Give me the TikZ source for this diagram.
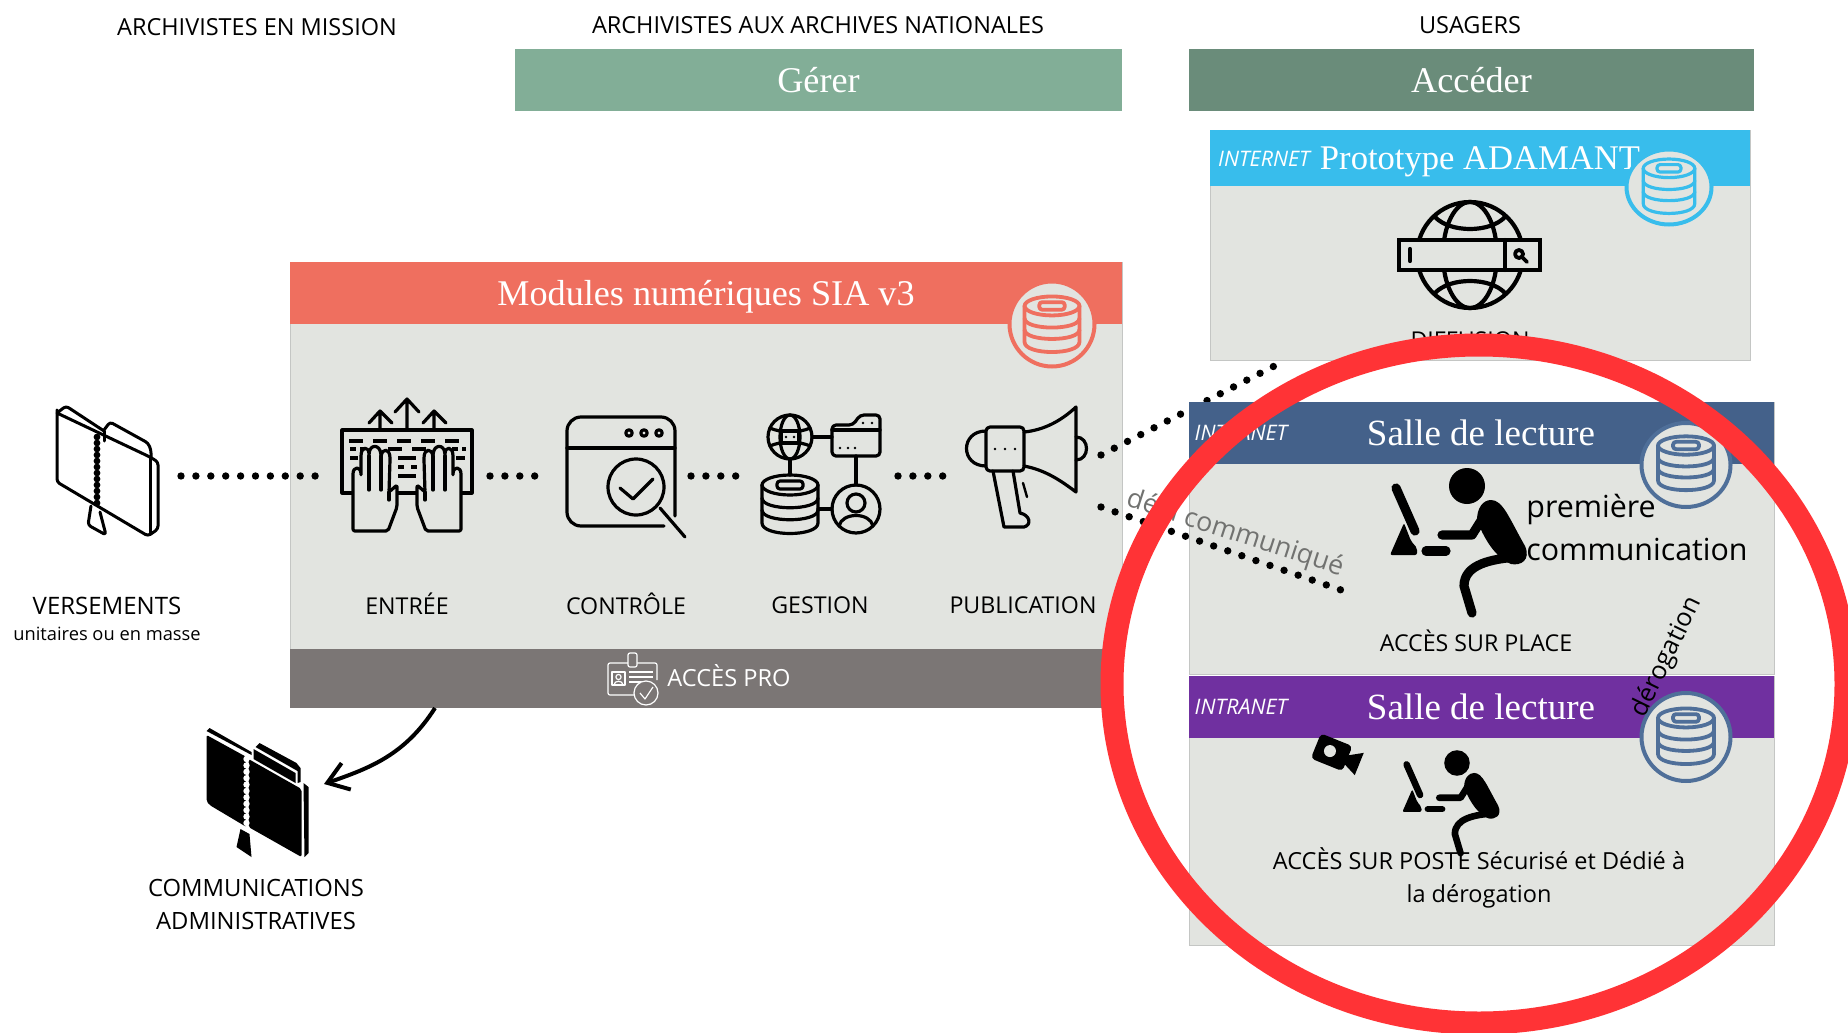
\documentclass[tikz,border=0pt]{standalone}
\usepackage{fontspec}
\setmainfont{Open Sans}
\newfontfamily\hdfont{Liberation Serif}
\usetikzlibrary{arrows.meta,shapes.geometric}
\definecolor{bodyg}{HTML}{E2E4E0}
\definecolor{edgeg}{HTML}{C4C6C4}
\definecolor{gererc}{HTML}{82AE97}
\definecolor{accederc}{HTML}{6A8C7A}
\definecolor{modc}{HTML}{EF6F5F}
\definecolor{proc}{HTML}{7B7675}
\definecolor{inetc}{HTML}{38BDEC}
\definecolor{sallec}{HTML}{44618A}
\definecolor{purplec}{HTML}{7030A0}
\definecolor{redc}{HTML}{FF3336}
\definecolor{badgeb}{HTML}{4F6F99}
\tikzset{
 bodybox/.style={fill=bodyg,draw=edgeg,line width=.4pt,inner sep=0pt,outer sep=0pt},
 band/.style={inner sep=0pt,outer sep=0pt,text=white,text height=12pt,text depth=0pt,font=\hdfont\fontsize{18.1}{20}\selectfont},
 lab/.style={inner sep=0pt,font=\fontsize{11.6}{14}\selectfont,align=center},
 coltitle/.style={inner sep=0pt,font=\fontsize{11.75}{14}\selectfont},
 tag/.style={inner sep=0pt,text=white,font=\itshape\fontsize{10.7}{12}\selectfont},
 sallett/.style={inner sep=0pt,text=white,font=\hdfont\fontsize{18.5}{20}\selectfont},
 dotline/.style={line width=3.7pt,line cap=round,dash pattern=on 0pt off 7.45pt},
 ico/.style={line width=1.6pt,line join=round,line cap=round},
}
% database glyph: x,y,xscale,yscale,colour,width
\newcommand{\dbglyph}[6]{%
\begin{scope}[shift={(#1,#2)},xscale=#3,yscale=#4,line width=#6,line join=round,line cap=round]
\draw[#5] (0,-19) ellipse[x radius=28,y radius=10];
\draw[#5] (-28,-19) -- (-28,19) .. controls (-28,33) and (28,33) .. (28,19) -- (28,-19);
\draw[#5] (-28,-6) .. controls (-28,7) and (28,7) .. (28,-6);
\draw[#5] (-28,6) .. controls (-28,19) and (28,19) .. (28,6);
\draw[#5,rounded corners=1.5pt] (-13,-23) rectangle (13,-15);
\end{scope}}
% badge: name,x,y,rx,ry,colour
\newcommand{\badge}[6]{%
\node[#6,fill=bodyg,draw=#6,line width=2pt,ellipse,minimum width=#4pt,minimum height=#5pt,inner sep=0pt] (#1) at (#2,#3) {};}
% seated person: x,y of head, scale, widths
\newcommand{\seated}[4]{%
\begin{scope}[shift={(#1,#2)},scale=#3,line cap=round,line join=round]
\fill (0,0) ellipse[x radius=18,y radius=18];
\draw[line width=#4] (-71,2) -- (-52,45);
\fill[rounded corners=1pt] (-63,37) -- (-77,69) -- (-50,69) -- (-50,62) -- (-56,55) -- cycle;
\draw[line width=#4] (-41,65) -- (-21,65);
\draw[line width=#4] (-25,49) -- (5,49) -- (22,22);
\fill (24,14) .. controls (36,14) and (42,32) .. (58,60) .. controls (64,74) and (54,80) .. (44,78) .. controls (25,70) and (14,45) .. (10,34) .. controls (10,22) and (16,14) .. (24,14) -- cycle;
\draw[line width=#4] (50,71) .. controls (25,73) and (-3,78) .. (-3,100) -- (5,127);
\end{scope}}
% folder
\newcommand{\folderline}{%
\begin{scope}[ico,line width=1.5pt,rounded corners=1.5pt]
\draw (57,413) -- (66,406) -- (104,431);
\draw (57,413) -- (57,482) -- (148,536) -- (158,529) -- (158,462) -- (150,457) -- (57,413) -- cycle;
\draw (150,457) -- (150,534);
\draw (104,431) -- (104,441);
\draw (104,430) -- (110,422) -- (148,443) -- (151,450) -- (151,457);
\draw (91,506) -- (88,525) -- (106,535) -- (100,512);
\draw[line width=3.4pt,dash pattern=on 0pt off 3pt] (97,437) -- (97,506);
\end{scope}}
\newcommand{\folderfill}{%
\begin{scope}[line join=round]
\fill[rounded corners=1pt] (57,414) -- (97,436) -- (97,506) -- (60,484) -- (57,480) -- cycle;
\fill[rounded corners=1pt] (99,438) -- (152,468) -- (152,536) -- (99,506) -- cycle;
\fill (57,410) -- (60,407) -- (102,431) -- (102,434) -- cycle;
\fill (110,422) -- (147,442) -- (151,447) -- (151,461) -- (148,462) -- (148,450) -- (106,426) -- cycle;
\fill (154,462) -- (159,466) -- (159,532) -- (155,536) -- cycle;
\fill (91,508) -- (87,526) -- (102,536) -- (100,513) -- cycle;
\fill (104,428) -- (146,452) -- (146,462) -- (104,438) -- cycle;
\draw[white,line width=3.2pt,line cap=round,dash pattern=on 0pt off 3.2pt] (97,438) -- (97,505);
\end{scope}}
\begin{document}
\begin{tikzpicture}[x=.5pt,y=-.5pt]
\useasboundingbox (0,0) rectangle (1848,1033);
\fill[white] (0,0) rectangle (1848,1033);

% ---- column titles
\node[coltitle] (t1) at (257,27) {ARCHIVISTES EN MISSION};
\node[coltitle] (t2) at (818,25) {ARCHIVISTES AUX ARCHIVES NATIONALES};
\node[coltitle] (t3) at (1470,25) {USAGERS};
\node[band,fill=gererc,minimum width=303.5pt,minimum height=31pt] (gerer) at (818.5,80) {Gérer};
\node[band,fill=accederc,minimum width=282.5pt,minimum height=31pt] (acceder) at (1471.5,80) {Accéder};

% ---- main panel
\node[bodybox,minimum width=416pt,minimum height=193.5pt,anchor=north west] (panel) at (290,262) {};
\node[band,fill=modc,minimum width=416pt,minimum height=31pt,anchor=north west] (modules) at (290,262) {Modules numériques SIA v3};
\node[inner sep=0pt,fill=proc,minimum width=416pt,minimum height=29.5pt,anchor=north west] (pro) at (290,649) {};
\node[inner sep=0pt,text=white,font=\fontsize{11.8}{14}\selectfont] (protxt) at (729,676) {ACCÈS PRO};
\begin{scope}[white,line width=.6pt,line join=round]
\draw[rounded corners=1pt] (636,663) -- (657,663) -- (657,680);
\draw[rounded corners=1pt] (628,663) -- (608,663) -- (608,695) -- (635,695);
\draw[fill=proc,rounded corners=1pt] (628,653) rectangle (637,667);
\draw (612,672) rectangle (625,685);
\draw (618.5,677) circle[radius=2.6];
\draw (614,685) .. controls (614,680) and (623,680) .. (623,685);
\draw (629,672) -- (653,672) (629,677) -- (653,677) (629,682) -- (642,682);
\draw[fill=proc] (646,693) circle[radius=12];
\draw (640,693) -- (645,699) -- (653,687);
\end{scope}
\badge{bmod}{1052}{324}{42.5}{42.5}{modc}
\dbglyph{1052}{324}{.98}{.95}{modc}{1.9pt}

% ---- upper dotted connector: over the panel, under the boxes at right
\coordinate (pubup) at (1101,455);
\coordinate (diffdown) at (1286,360);
\draw[dotline] (pubup) -- (diffdown);

% ---- folder 1
\coordinate (versout) at (181,476);
\folderline
\node[lab,font=\fontsize{12}{14}\selectfont] (vers) at (107,606) {VERSEMENTS};
\node[lab,font=\fontsize{9.15}{12}\selectfont] (versb) at (107,634) {unitaires ou en masse};

% ---- keyboard
\coordinate (entin) at (318,476);
\coordinate (entout) at (490,476);
\begin{scope}[ico]
\draw (342,430) rectangle (472,493);
\draw (380,430) -- (380,412) (369,423) -- (380,411) -- (392,423);
\draw (407,430) -- (407,400) (395,412) -- (407,399) -- (419,412);
\draw (434,430) -- (434,412) (423,423) -- (434,411) -- (446,423);
\draw[line cap=butt,dash pattern=on 7pt off 5pt] (349,441) -- (466,441);
\draw[line cap=butt,dash pattern=on 3pt off 2pt] (350,449) -- (364,449);
\draw[line cap=butt,dash pattern=on 7pt off 5pt] (388,449) -- (427,449);
\draw[line cap=butt,dash pattern=on 3pt off 2pt] (452,449) -- (466,449);
\draw[line cap=butt] (350,458) -- (358,458) (398,458) -- (416,458) (456,458) -- (465,458);
\draw[line cap=butt] (398,467) -- (404,467) (411,467) -- (417,467);
\draw[line cap=butt] (398,476) -- (416,476);
\foreach \s/\o in {1/0,-1/814}{
\begin{scope}[shift={(\o,0)},xscale=\s]
\draw[fill=bodyg,rounded corners=1pt] (353,531) -- (353,476) .. controls (353,466) and (361,466) .. (361,476) -- (361,458) .. controls (361,446) and (369,446) .. (369,456) -- (369,455) .. controls (370,444) and (380,444) .. (381,456) -- (381,458) .. controls (382,448) and (390,448) .. (390,460) -- (389,492) -- (397,485) -- (397,507) -- (388,531) -- cycle;
\draw (369,456) -- (369,490) (381,456) -- (381,490) (389,492) -- (389,500);
\end{scope}}
\end{scope}
\node[lab] (entree) at (407,604) {ENTRÉE};

% ---- control
\coordinate (ctlin) at (536,476);
\coordinate (ctlout) at (691,476);
\begin{scope}[ico]
\draw[rounded corners=7pt] (664,526) -- (567,526) -- (567,417) -- (675,417) -- (675,516);
\draw (567,448) -- (675,448);
\foreach \x in {629,644,659} \draw (\x,433) circle[radius=3.2];
\draw (636,487) circle[radius=28];
\draw (660,508) -- (685,537);
\draw (620,488) -- (633,499) -- (653,479);
\end{scope}
\node[lab] (controle) at (626,604) {CONTRÔLE};

% ---- management
\coordinate (gesin) at (736.5,476);
\coordinate (gesout) at (898,476);
\begin{scope}[ico]
\draw (790,437) circle[radius=22];
\draw (790,437) ellipse[x radius=10,y radius=22];
\draw (770,428) .. controls (780,433) and (800,433) .. (810,428);
\draw (770,446) .. controls (780,441) and (800,441) .. (810,446);
\draw[fill=bodyg] (781,431) rectangle (799,443);
\fill (786,437) circle[radius=1.3] (794,437) circle[radius=1.3];
\draw[rounded corners=2pt] (832,425) -- (853,425) -- (860,415) -- (880,415) -- (880,456) -- (832,456) -- cycle;
\draw (832,430) -- (880,430);
\fill (863,423) circle[radius=1.3] (872,423) circle[radius=1.3];
\foreach \x in {840,848,855} \fill (\x,448) circle[radius=1.3];
\draw (812,437) -- (832,437) (790,459) -- (790,475) (856,456) -- (856,485) (818,509) -- (832,509);
\draw (856,509) circle[radius=24];
\draw (856,503) circle[radius=9];
\draw (839,526) .. controls (842,512) and (870,512) .. (873,526);
\end{scope}
\dbglyph{790}{504}{1}{1}{black}{1.6pt}
\node[lab] (gestion) at (820,605) {GESTION};

% ---- megaphone
\coordinate (pubin) at (943.5,476);
\coordinate (publow) at (1101,507);
\begin{scope}[ico]
\draw[rounded corners=2pt] (986,427) rectangle (1024,471);
\draw (986,431) .. controls (960,431) and (960,466) .. (986,466);
\draw (1024,432) .. controls (1045,430) and (1062,420) .. (1076,407) -- (1076,492) .. controls (1060,480) and (1045,470) .. (1024,466);
\draw (1076,437) .. controls (1090,437) and (1090,460) .. (1076,460);
\draw (993,471) -- (1004,527) -- (1024,527) .. controls (1032,525) and (1030,515) .. (1020,513) -- (1013,471);
\draw[line width=1.2pt] (1023,483) -- (1027,497);
\foreach \x in {995,1005,1015} \fill (\x,449) circle[radius=1.4];
\end{scope}
\node[lab] (publi) at (1023,605) {PUBLICATION};

% ---- dotted chain
\draw[dotline] (versout) -- (entin);
\draw[dotline] (entout) -- (ctlin);
\draw[dotline] (ctlout) -- (gesin);
\draw[dotline] (gesout) -- (pubin);

% ---- folder 2 and arrow
\begin{scope}[shift={(149.5,321)}]
\folderfill
\end{scope}
\node[lab,font=\fontsize{11.9}{14}\selectfont] (comm) at (256,904) {COMMUNICATIONS\\[2.5pt]ADMINISTRATIVES};
\coordinate (protap) at (435,708);
\coordinate (commin) at (324,784);
\draw[line width=2pt,-{Straight Barb[length=10pt,width=14pt,line width=2pt]}] (protap) .. controls (405,755) and (370,768) .. (commin);

% ---- internet panel
\node[bodybox,minimum width=270pt,minimum height=115pt,anchor=north west] (inet) at (1210,130) {};
\node[band,fill=inetc,minimum width=270pt,minimum height=28pt,anchor=north west] (inetbar) at (1210,130) {};
\node[tag] (inettag) at (1264,159) {INTERNET};
\node[inner sep=0pt,text=white,font=\hdfont\fontsize{17.3}{20}\selectfont] (proto) at (1480,162) {Prototype ADAMANT};
\badge{binet}{1669}{187}{42.5}{37.5}{inetc}
\dbglyph{1669}{186}{.92}{.93}{inetc}{1.6pt}
\begin{scope}[line width=2.1pt,line cap=round,line join=round]
\draw (1470,255) circle[radius=53];
\draw (1470,255) ellipse[x radius=27,y radius=53];
\draw (1435,217) .. controls (1450,233) and (1490,233) .. (1505,217);
\draw (1435,293) .. controls (1450,277) and (1490,277) .. (1505,293);
\draw[fill=bodyg,line cap=butt,line join=miter] (1399,240) rectangle (1540,270);
\draw (1505,240) -- (1505,270);
\draw (1410,249) -- (1410,261);
\draw[line width=1.9pt] (1519,254) circle[radius=4];
\draw[line width=1.9pt] (1522,257) -- (1527,262);
\end{scope}
\node[lab] (diff) at (1470,340) {DIFFUSION};

% ---- first reading room
\node[bodybox,minimum width=292.5pt,minimum height=136pt,anchor=north west] (salle1) at (1189,402) {};
\node[band,fill=sallec,minimum width=292.5pt,minimum height=31pt,anchor=north west] (s1bar) at (1189,402) {};
\node[tag] (s1tag) at (1241,433) {INTRANET};
\node[sallett] (s1title) at (1481,433) {Salle de lecture};
\badge{bs1}{1686}{465}{44.5}{42}{badgeb}
\dbglyph{1686}{463}{1}{.92}{badgeb}{1.9pt}
\seated{1467}{486}{1}{4.6pt}
\node[inner sep=0pt,anchor=west,font=\fontsize{15.2}{18}\selectfont] (prem) at (1526,510) {première};
\node[inner sep=0pt,anchor=west,font=\fontsize{15.2}{18}\selectfont] (comm1) at (1526,549) {communication};
\node[lab] (sp) at (1476,641) {ACCÈS SUR PLACE};

% ---- second reading room
\node[bodybox,minimum width=292.5pt,minimum height=134.5pt,anchor=north west] (salle2) at (1189,676) {};
\node[band,fill=purplec,minimum width=292.5pt,minimum height=31pt,anchor=north west] (s2bar) at (1189,676) {};
\node[tag] (s2tag) at (1241,707) {INTRANET};
\node[sallett] (s2title) at (1481,707) {Salle de lecture};
\badge{bs2}{1686}{737}{44.5}{44}{badgeb}
\dbglyph{1686}{736}{1}{.95}{badgeb}{1.9pt}
\seated{1457}{763}{.71}{3.3pt}
\begin{scope}[shift={(1337,755)},rotate=-22]
\fill[rounded corners=2pt] (-23,-14) rectangle (11,13);
\fill[bodyg] (-8,-1) circle[radius=6];
\fill (9,-3) -- (24,-12) -- (24,12) -- (9,5) -- cycle;
\end{scope}
\node[lab,font=\fontsize{11.75}{14}\selectfont] (sp2) at (1479,878) {ACCÈS SUR POSTE Sécurisé et Dédié à\\[2.6pt]la dérogation};

% ---- rotated notes and low dotted connector
\coordinate (s1end) at (1341,590);
\draw[dotline] (publow) -- (s1end);
\node[inner sep=0pt,text=black!50!bodyg,rotate=-18,font=\fontsize{13.4}{15}\selectfont] (deja) at (1235,534) {déjà communiqué};
\node[inner sep=0pt,rotate=64,font=\fontsize{12.7}{15}\selectfont] (derog) at (1667,657) {dérogation};

% ---- red ring
\node[draw=redc,line width=11.5pt,ellipse,minimum width=367pt,minimum height=339pt,inner sep=0pt,fill=none] (ring) at (1479,684) {};
\end{tikzpicture}
\end{document}
